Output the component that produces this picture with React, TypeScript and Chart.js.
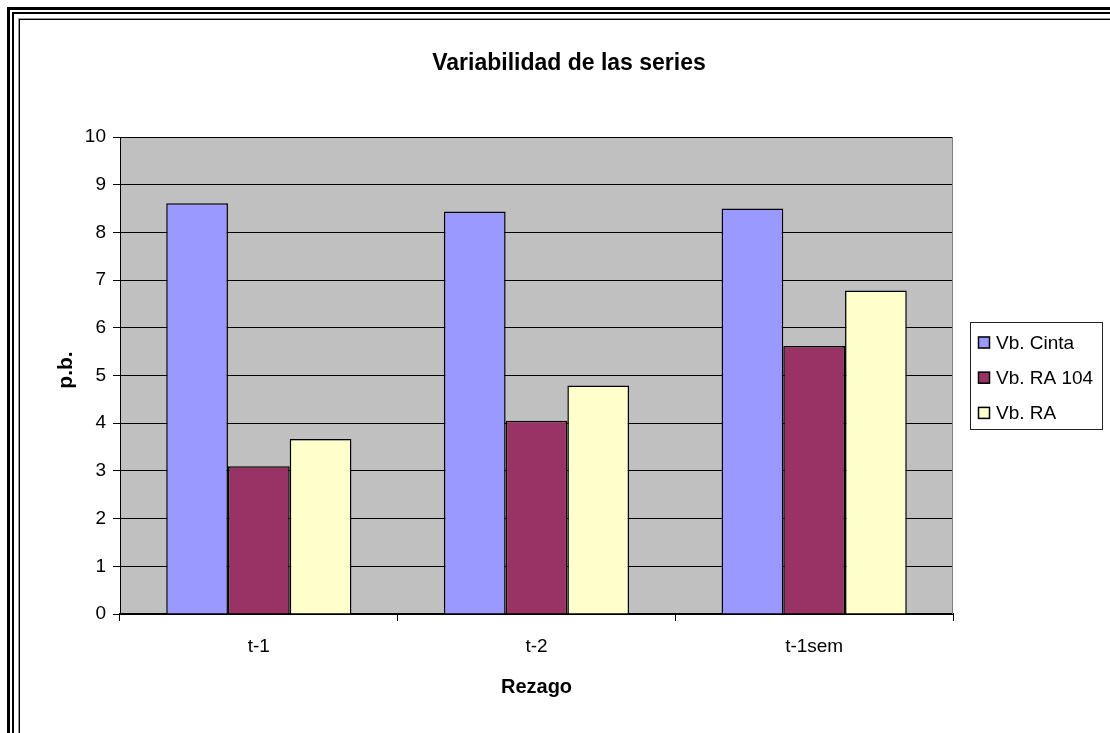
import React, { useEffect, useRef } from "react";
import { Chart, registerables } from "chart.js";

Chart.register(...registerables);

const categories = ["t-1", "t-2", "t-1sem"];
const seriesLabels = ["Vb. Cinta", "Vb. RA 104", "Vb. RA"];
const cintaValues = [8.61, 8.44, 8.5];
const ra104Values = [3.1, 4.05, 5.62];
const raValues = [3.67, 4.79, 6.78];
const seriesColors = ["#9999FF", "#993366", "#FFFFCC"];
const chartTitle = "Variabilidad de las series";
const xTitle = "Rezago";
const yTitle = "p.b.";

const FONT = "'Liberation Sans', Arial, Helvetica, sans-serif";

const decorPlugin = {
  id: "decor",
  beforeDraw(chart: any) {
    const { ctx, chartArea } = chart;
    ctx.save();
    ctx.fillStyle = "#C0C0C0";
    ctx.fillRect(chartArea.left, chartArea.top, chartArea.right - chartArea.left, chartArea.bottom - chartArea.top);
    ctx.restore();
  },
  afterDraw(chart: any) {
    const { ctx, chartArea } = chart;
    ctx.save();
    ctx.strokeStyle = "#808080";
    ctx.lineWidth = 1;
    ctx.beginPath();
    ctx.moveTo(Math.round(chartArea.right) - 0.5, chartArea.top);
    ctx.lineTo(Math.round(chartArea.right) - 0.5, chartArea.bottom);
    ctx.stroke();

    ctx.fillStyle = "#000";
    ctx.font = `bold 23px ${FONT}`;
    ctx.textAlign = "center";
    ctx.textBaseline = "alphabetic";
    ctx.fillText(chartTitle, 569, 69.5);

    ctx.font = `bold 20px ${FONT}`;
    ctx.fillText(xTitle, (chartArea.left + chartArea.right) / 2, 692.5);

    ctx.save();
    ctx.translate(71.5, 370);
    ctx.rotate(-Math.PI / 2);
    ctx.font = `bold 21px ${FONT}`;
    ctx.fillText(yTitle, 0, 0);
    ctx.restore();

    const bx = 970.5, by = 322.5, bw = 132, bh = 107;
    ctx.strokeStyle = "#222";
    ctx.lineWidth = 1;
    ctx.strokeRect(bx, by, bw, bh);
    ctx.font = `19px ${FONT}`;
    ctx.textAlign = "left";
    chart.data.datasets.forEach((ds: any, i: number) => {
      const base = 348.5 + i * 35.2;
      ctx.fillStyle = ds.backgroundColor;
      ctx.fillRect(978, base - 12, 12, 12);
      ctx.strokeStyle = "#000";
      ctx.lineWidth = 1.5;
      ctx.strokeRect(978.5, base - 11.5, 11, 11);
      ctx.fillStyle = "#000";
      ctx.fillText(ds.label, 996, base);
    });
    ctx.restore();
  },
};

export default function App() {
  const ref = useRef<HTMLCanvasElement | null>(null);

  useEffect(() => {
    if (!ref.current) return;
    const datasets = [cintaValues, ra104Values, raValues].map((vals, i) => ({
      label: seriesLabels[i],
      data: vals,
      backgroundColor: seriesColors[i],
      borderColor: "#000",
      borderWidth: 1.5,
      categoryPercentage: 0.667,
      barPercentage: 1.0,
    }));
    const chart = new Chart(ref.current, {
      type: "bar",
      data: { labels: categories, datasets },
      options: {
        responsive: false,
        animation: false,
        devicePixelRatio: 1,
        layout: { padding: { left: 0, top: 137, right: 157, bottom: 0 } },
        plugins: {
          legend: { display: false },
          title: { display: false },
          tooltip: { enabled: false },
        },
        scales: {
          x: {
            offset: true,
            afterFit: (s: any) => {
              s.height = 119;
            },
            grid: {
              offset: true,
              drawOnChartArea: false,
              drawTicks: true,
              tickLength: 7,
              color: "#000",
            },
            border: { color: "#000", width: 2 },
            ticks: {
              color: "#000",
              font: { family: FONT, size: 19 },
              padding: 14,
              maxRotation: 0,
            },
          },
          y: {
            min: 0,
            max: 10,
            afterFit: (s: any) => {
              s.width = 120;
            },
            grid: {
              color: "#000",
              lineWidth: 1,
              tickLength: 7,
              drawTicks: true,
            },
            border: { color: "#000", width: 1 },
            ticks: {
              stepSize: 1,
              color: "#000",
              font: { family: FONT, size: 19 },
              padding: 7,
            },
          },
        },
      },
      plugins: [decorPlugin],
    });
    return () => chart.destroy();
  }, []);

  return (
    <div style={{ position: "fixed", left: 0, top: 0, width: 1110, height: 733, overflow: "hidden", background: "#fff" }}>
      <div style={{ position: "absolute", left: 7, top: 7, width: 3000, height: 3000, border: "3px solid #000", boxSizing: "border-box" }} />
      <div style={{ position: "absolute", left: 12, top: 12, width: 3000, height: 3000, border: "2px solid #000", boxSizing: "border-box" }} />
      <div style={{ position: "absolute", left: 18, top: 18, width: 3000, height: 3000, borderLeft: "1px solid #999", borderTop: "1px solid #999", boxSizing: "border-box" }} />
      <div style={{ position: "absolute", left: 19, top: 19, width: 3000, height: 3000, borderLeft: "1px solid #000", borderTop: "1px solid #000", boxSizing: "border-box" }} />
      <canvas ref={ref} width={1110} height={733} style={{ position: "absolute", left: 0, top: 0, width: 1110, height: 733 }} />
    </div>
  );
}
